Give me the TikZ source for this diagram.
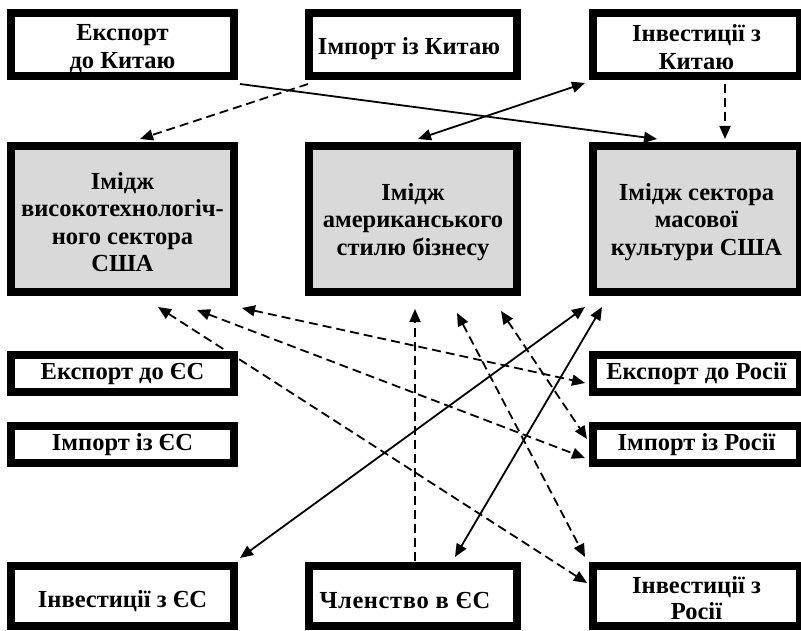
\documentclass[tikz,border=0pt]{standalone}
\usepackage{fontspec}
\setmainfont{Liberation Serif}
\usetikzlibrary{arrows.meta,calc}
\definecolor{boxgray}{RGB}{217,217,217}
\begin{document}
\begin{tikzpicture}[x=1pt,y=-1pt,
  >={Triangle[length=13pt,width=11pt]},
  box/.style={draw=black, line width=8pt, fill=white, inner sep=0pt, outer sep=4pt},
  imgbox/.style={box, fill=boxgray},
  lbl/.style={align=center, inner sep=0pt, font=\bfseries\fontsize{24.5}{27.5}\selectfont},
  wl/.style={minimum width=223pt},
  wm/.style={minimum width=208pt},
  wr/.style={minimum width=207pt},
  link/.style={line width=1.8pt},
  dlink/.style={line width=1.8pt, dash pattern=on 9pt off 5pt}]
\useasboundingbox (0,0) rectangle (801,631);
% top row
\node[box, wl, minimum height=63pt, label={[lbl, name=ecT, yshift=-4pt]center:Експорт\\до Китаю}] (ec) at (122.5,44.5) {};
\node[box, wm, minimum height=63pt, label={[lbl, name=icT, yshift=-4pt, xshift=-4pt]center:Імпорт із Китаю}] (ic) at (413,44.5) {};
\node[box, wr, minimum height=63pt, label={[lbl, name=incT, yshift=-2.5pt]center:Інвестиції з\\Китаю}] (inc) at (696.5,44.5) {};
% image boxes
\node[imgbox, wl, minimum height=146pt, label={[lbl, name=htT, yshift=-3pt]center:Імідж\\високотехнологіч-\\ного сектора\\США}] (ht) at (122.5,219) {};
\node[imgbox, wm, minimum height=146pt, label={[lbl, name=amT, yshift=-3pt]center:Імідж\\американського\\стилю бізнесу}] (am) at (413,219) {};
\node[imgbox, wr, minimum height=146pt, label={[lbl, name=mcT, yshift=-3pt]center:Імідж сектора\\масової\\культури США}] (mc) at (696.5,219) {};
% middle rows
\node[box, wl, minimum height=37pt, label={[lbl, name=eeuT]center:Експорт до ЄС}] (eeu) at (122.5,373.5) {};
\node[box, wl, minimum height=37pt, label={[lbl, name=ieuT]center:Імпорт із ЄС}] (ieu) at (122.5,444.5) {};
\node[box, wr, minimum height=37pt, label={[lbl, name=erT]center:Експорт до Росії}] (er) at (696.5,373.5) {};
\node[box, wr, minimum height=37pt, label={[lbl, name=irT]center:Імпорт із Росії}] (ir) at (696.5,444.5) {};
% bottom row
\node[box, wl, minimum height=60pt, label={[lbl, name=ievT, yshift=-5pt]center:Інвестиції з ЄС}] (iev) at (122.5,596) {};
\node[box, wm, minimum height=60pt, label={[lbl, name=memT, yshift=-5pt, xshift=-8pt]center:{\addfontfeature{LetterSpace=2.5}Членство в ЄС}}] (mem) at (413,596) {};
\node[box, wr, minimum height=60pt, label={[lbl, name=irrT, yshift=-2pt, font=\bfseries\fontsize{24.5}{25.5}\selectfont]center:Інвестиції з\\Росії}] (irr) at (696.5,596) {};
% connectors, top
\draw[link,->] ($(ec.south east)+(2,4)$) -- ($(mc.north)+(-39.5,-3)$);
\draw[dlink,->] ($(ic.south west)+(3,4)$) -- ($(ht.north)+(17.5,-3)$);
\draw[link,<->] ($(am.north)+(5,-3)$) -- ($(inc.south west)+(-4,3)$);
\draw[dlink,->] ($(inc.south)+(28.5,4)$) -- ($(mc.north)+(28.5,-3)$);
% connectors, lower
\draw[dlink,<->] ($(ht.south east)+(4,12)$) -- ($(er.west)+(-4,9.5)$);
\draw[dlink,<->] ($(ht.south)+(74.5,14)$) -- ($(ir.west)+(-4,13.5)$);
\draw[dlink,<->] ($(ht.south)+(35.5,11)$) -- ($(irr.north west)+(-2,21)$);
\draw[dlink,->] ($(mem.north)+(2,-1)$) -- ($(am.south)+(2,13)$);
\draw[dlink,<->] ($(am.south)+(44,17)$) -- ($(irr.north west)+(-4,-5)$);
\draw[dlink,<->] ($(am.south)+(88,15)$) -- ($(ir.west)+(-2,-5.5)$);
\draw[link,<->] ($(iev.north east)+(2,-4)$) -- ($(mc.south west)+(-4,11)$);
\draw[link,<->] ($(mem.north)+(42,-5)$) -- ($(mc.south west)+(13,11)$);
\end{tikzpicture}
\end{document}
